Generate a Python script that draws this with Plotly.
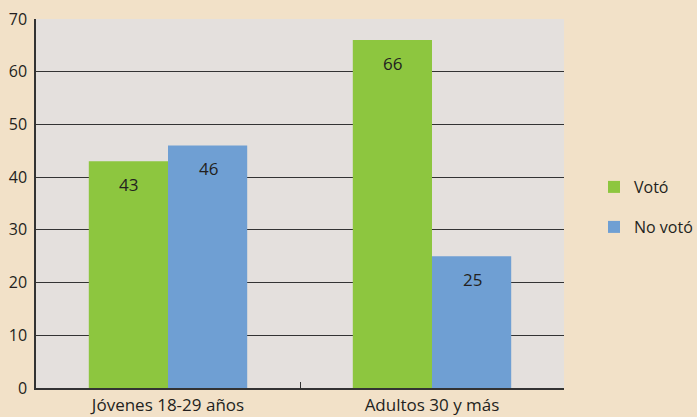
import plotly.graph_objects as go

categories = ["Jóvenes 18-29 años", "Adultos 30 y más"]
voto = [43, 66]
no_voto = [46, 25]
series_names = ["Votó", "No votó"]
colors = ["#8dc63f", "#6f9fd3"]

FONT = "Open Sans, Noto Sans, sans-serif"
TXT = "#231f20"

fig = go.Figure()
fig.add_trace(go.Bar(x=categories, y=voto, name=series_names[0], marker_color=colors[0],
                     marker_line_width=0, legend="legend"))
fig.add_trace(go.Bar(x=categories, y=no_voto, name=series_names[1], marker_color=colors[1],
                     marker_line_width=0, legend="legend2"))

# value labels inside the top of each bar
for vals, shift in ((voto, -40), (no_voto, 40)):
    for c, v in zip(categories, vals):
        fig.add_annotation(x=c, y=v, text=str(v), showarrow=False, xshift=shift, yshift=-23,
                           font=dict(family=FONT, size=17, color=TXT))

legend_style = dict(font=dict(family=FONT, size=16, color=TXT), bgcolor="rgba(0,0,0,0)",
                    xref="container", yref="container",
                    xanchor="left", yanchor="middle", itemwidth=30)
fig.update_layout(
    template="none",
    width=697, height=417,
    margin=dict(l=36, r=133, t=19, b=29),
    paper_bgcolor="#f2e1c8",
    plot_bgcolor="#e4e0dd",
    barmode="group", bargap=0.4, bargroupgap=0,
    showlegend=True,
    legend=dict(x=594 / 697, y=(417 - 187) / 417, **legend_style),
    legend2=dict(x=594 / 697, y=(417 - 227) / 417, **legend_style),
    xaxis=dict(showline=True, linecolor="#333333", linewidth=1.5, showgrid=False,
               automargin=False,
               ticks="inside", tickson="boundaries", ticklen=6, tickcolor="#333333",
               tickfont=dict(family=FONT, size=17, color=TXT), mirror=False,
               ticklabelstandoff=1),
    yaxis=dict(range=[0, 70], dtick=10, showline=True, linecolor="#333333", linewidth=1.5,
               automargin=False,
               showgrid=True, gridcolor="#333333", gridwidth=1, zeroline=False,
               ticks="", tickfont=dict(family=FONT, size=16, color=TXT), ticklabelstandoff=4),
)
fig.write_html("out.html")
